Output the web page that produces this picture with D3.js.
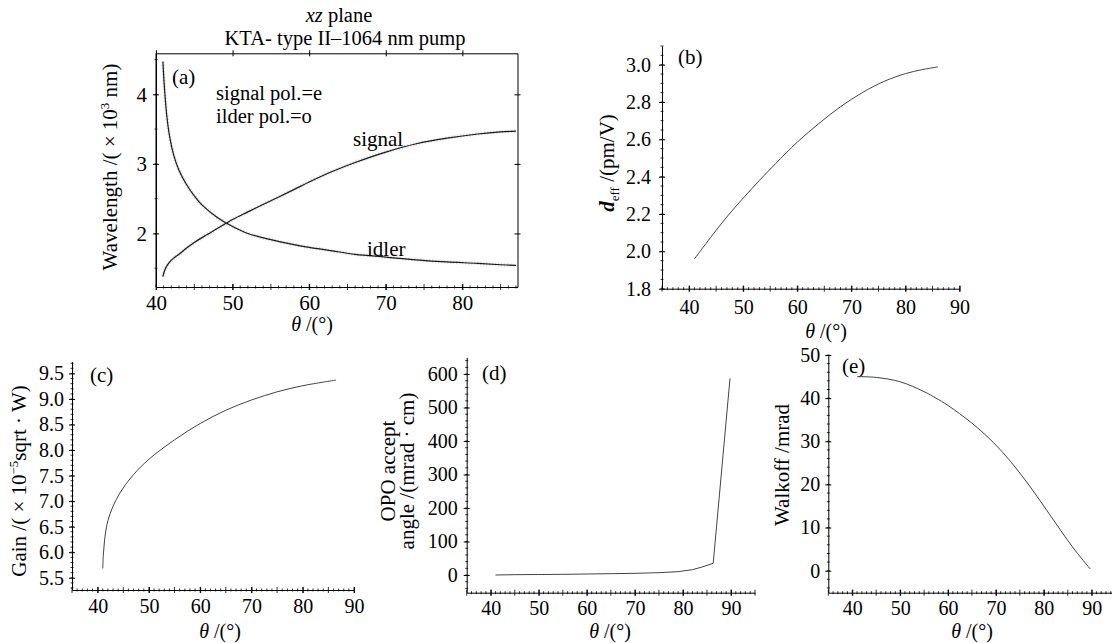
<!DOCTYPE html>
<html lang="en">
<head>
<meta charset="utf-8">
<style>
  body { margin: 0; background: #fff; }
  svg text { font-family: "Liberation Serif", "Times New Roman", serif; fill: #000; }
  .domain { stroke: #000; stroke-width: 1; }
  .tick line { stroke: #000; stroke-width: 1; }
</style>
</head>
<body>
<svg id="chart" width="1112" height="643"></svg>
<script src="https://d3js.org/d3.v7.min.js"></script>
<script>
// (a) signal / idler wavelength, x 10^3 nm
var thetaA = [40.9, 41.1, 41.4, 41.8, 42.3, 43, 44, 45, 46, 48, 50, 52, 55, 58, 60, 63, 66, 70, 74, 78, 82, 85, 87];
var signalA = [1.38, 1.46, 1.53, 1.59, 1.645, 1.70, 1.79, 1.87, 1.94, 2.07, 2.20, 2.31, 2.47, 2.63, 2.74, 2.89, 3.02, 3.17, 3.29, 3.37, 3.43, 3.46, 3.47];
var idlerA = [4.47, 4.10, 3.70, 3.38, 3.13, 2.91, 2.70, 2.54, 2.41, 2.23, 2.10, 2.00, 1.91, 1.84, 1.80, 1.75, 1.70, 1.66, 1.62, 1.59, 1.57, 1.55, 1.54];

// (b) d_eff, pm/V
var thetaB = [41, 44, 47, 50, 53, 56, 60, 64, 68, 72, 76, 80, 83, 86];
var deffB = [1.96, 2.075, 2.185, 2.285, 2.38, 2.47, 2.585, 2.685, 2.775, 2.85, 2.91, 2.952, 2.973, 2.988];

// (c) gain
var thetaC = [41, 41.1, 41.3, 41.6, 42, 43, 44, 45, 47, 50, 55, 60, 65, 70, 75, 80, 84, 86.5];
var gainC = [5.68, 5.93, 6.18, 6.42, 6.62, 6.9, 7.1, 7.26, 7.52, 7.82, 8.2, 8.52, 8.78, 8.98, 9.14, 9.26, 9.33, 9.37];

// (d) OPO acceptance angle
var thetaD = [41, 45, 50, 55, 60, 65, 70, 75, 79, 82, 84, 86.3, 89.8];
var acceptD = [0, 1, 1.5, 2, 3, 4, 5, 7, 10, 16, 24, 35, 587];

// (e) walkoff
var thetaE = [41, 45, 50, 55, 57.5, 60, 65, 69.4, 73, 76.4, 80, 83, 86, 89.7];
var walkE = [45.0, 44.8, 43.8, 41.5, 40, 38.3, 34.2, 29.8, 25.4, 20.6, 15.0, 10.2, 5.5, 0.4];

// tick labels
var xTicksA = [40, 50, 60, 70, 80];
var yTicksA = [2, 3, 4];
var xTicks = [40, 50, 60, 70, 80, 90];
var yTicksB = [1.8, 2.0, 2.2, 2.4, 2.6, 2.8, 3.0];
var yTicksC = [5.5, 6.0, 6.5, 7.0, 7.5, 8.0, 8.5, 9.0, 9.5];
var yTicksD = [0, 100, 200, 300, 400, 500, 600];
var yTicksE = [0, 10, 20, 30, 40, 50];

var svg = d3.select("#chart");

function zip(xs, ys) { return xs.map(function(v, i) { return [v, ys[i]]; }); }

function drawPanel(p) {
  var x = d3.scaleLinear().domain(p.xDomain).range([p.left, p.right]);
  var y = d3.scaleLinear().domain(p.yDomain).range([p.bottom, p.top]);
  var g = svg.append("g");

  // minor ticks
  var xMinor = d3.range(Math.ceil(p.xDomain[0]), p.xDomain[1] + 0.001, 1);
  var yMinor = d3.range(Math.ceil(p.yDomain[0] / p.yMinor) * p.yMinor, p.yDomain[1] + 1e-9, p.yMinor);

  var bx = g.append("g").attr("transform", "translate(0," + p.bottom + ")")
    .call(d3.axisBottom(x).tickValues(p.xTicks).tickSizeOuter(0).tickSizeInner(3).tickPadding(p.xPad).tickFormat(d3.format("d")));
  bx.selectAll(".tick line").attr("y1", -3).attr("y2", 3);
  bx.selectAll(".tick text").attr("font-size", p.fs);
  bx.selectAll(".minor").data(xMinor).enter().append("line")
    .attr("x1", x).attr("x2", x).attr("y1", function(d) { return d % 5 === 0 ? -3 : -1.5; }).attr("y2", function(d) { return d % 5 === 0 ? 3 : 1.5; })
    .attr("stroke", "#000").attr("stroke-width", 0.8);

  var ly = g.append("g").attr("transform", "translate(" + p.left + ",0)")
    .call(d3.axisLeft(y).tickValues(p.yTicks).tickSizeOuter(0).tickSizeInner(3).tickPadding(p.yPad).tickFormat(d3.format(p.yFmt)));
  ly.selectAll(".tick line").attr("x1", -3).attr("x2", 3);
  ly.selectAll(".tick text").attr("font-size", p.fs);
  ly.selectAll(".minor").data(yMinor).enter().append("line")
    .attr("y1", y).attr("y2", y).attr("x1", -1.5).attr("x2", 1.5)
    .attr("stroke", "#000").attr("stroke-width", 0.8);

  if (p.frame) {
    var tx = g.append("g").attr("transform", "translate(0," + p.top + ")")
      .call(d3.axisTop(x).tickValues(p.xTicks).tickSizeOuter(0).tickSizeInner(3).tickFormat(""));
    tx.selectAll(".tick line").attr("y1", -3).attr("y2", 3);
    var ry = g.append("g").attr("transform", "translate(" + p.right + ",0)")
      .call(d3.axisRight(y).tickValues(p.yTicks).tickSizeOuter(0).tickSizeInner(3).tickFormat(""));
    ry.selectAll(".tick line").attr("x1", -3).attr("x2", 3);
    g.append("line").attr("x1", p.left).attr("x2", p.left).attr("y1", p.top).attr("y2", p.bottom).attr("stroke", "#000");
  }

  // panel letter
  g.append("text").attr("x", p.tagX).attr("y", p.tagY).attr("font-size", 21).text(p.tag);

  // x label
  var xl = g.append("text").attr("x", p.xLabX).attr("y", p.xLabY).attr("font-size", p.xLabFs || p.fs).attr("text-anchor", "middle");
  xl.append("tspan").attr("font-style", "italic").text("θ");
  xl.append("tspan").text(" /(°)");

  return { g: g, x: x, y: y };
}

function curve(pan, xs, ys, opts) {
  var line = d3.line().x(function(d) { return pan.x(d[0]); }).y(function(d) { return pan.y(d[1]); })
    .curve(opts.linear ? d3.curveLinear : d3.curveCatmullRom.alpha(0.5));
  var data = zip(xs, ys);
  if (opts.fuzz) {
    pan.g.append("path").attr("d", line(data)).attr("fill", "none")
      .attr("stroke", "#999").attr("stroke-width", 3.5).attr("stroke-opacity", 0.35)
      .attr("stroke-dasharray", "1.5 1.5");
  }
  pan.g.append("path").attr("d", line(data)).attr("fill", "none")
    .attr("stroke", opts.color).attr("stroke-width", opts.width);
}

// ---------- (a)
var pa = drawPanel({
  left: 156, right: 517.5, top: 53.3, bottom: 287, xDomain: [40, 87.2], yDomain: [1.23, 4.59],
  xTicks: xTicksA, yTicks: yTicksA, yMinor: 0.5, yFmt: "d", xPad: 5, yPad: 6, fs: 21, frame: true,
  tag: "(a)", tagX: 172, tagY: 84, xLabX: 312, xLabY: 331, xLabFs: 20
});
curve(pa, thetaA, idlerA, { color: "#1a1a1a", width: 1.2, fuzz: true });
curve(pa, thetaA, signalA, { color: "#1a1a1a", width: 1.2, fuzz: true });
pa.g.append("text").attr("x", 216).attr("y", 100).attr("font-size", 20.5).text("signal pol.=e");
pa.g.append("text").attr("x", 216).attr("y", 123).attr("font-size", 20.5).text("ilder pol.=o");
pa.g.append("text").attr("x", 353).attr("y", 146).attr("font-size", 21).text("signal");
pa.g.append("text").attr("x", 367).attr("y", 256).attr("font-size", 21).text("idler");

var t1 = svg.append("text").attr("x", 339).attr("y", 22).attr("font-size", 20.5).attr("text-anchor", "middle");
t1.append("tspan").attr("font-style", "italic").text("xz");
t1.append("tspan").text(" plane");
svg.append("text").attr("x", 345).attr("y", 45).attr("font-size", 20.5).attr("text-anchor", "middle")
  .text("KTA- type II–1064 nm pump");

var yla = svg.append("text").attr("transform", "translate(117,167) rotate(-90)").attr("font-size", 21).attr("text-anchor", "middle");
yla.append("tspan").text("Wavelength /( × 10");
yla.append("tspan").attr("font-size", 13).attr("dy", -8).text("3");
yla.append("tspan").attr("dy", 8).text(" nm)");

// ---------- (b)
var pb = drawPanel({
  left: 662, right: 959.6, top: 46, bottom: 288.7, xDomain: [35, 90], yDomain: [1.8, 3.1],
  xTicks: xTicks, yTicks: yTicksB, yMinor: 0.05, yFmt: ".1f", xPad: 8, yPad: 8, fs: 20,
  tag: "(b)", tagX: 678, tagY: 64, xLabX: 826, xLabY: 338
});
curve(pb, thetaB, deffB, { color: "#444", width: 1 });
var ylb = svg.append("text").attr("transform", "translate(614,163) rotate(-90)").attr("font-size", 21).attr("text-anchor", "middle");
ylb.append("tspan").attr("font-style", "italic").attr("font-weight", "bold").text("d");
ylb.append("tspan").attr("font-size", 13).attr("dy", 5).text("eff");
ylb.append("tspan").attr("dy", -5).text(" /(pm/V)");

// ---------- (c)
var pc = drawPanel({
  left: 72, right: 354, top: 361.7, bottom: 590, xDomain: [35, 90], yDomain: [5.26, 9.73],
  xTicks: xTicks, yTicks: yTicksC, yMinor: 0.1, yFmt: ".1f", xPad: 6, yPad: 5, fs: 20,
  tag: "(c)", tagX: 90, tagY: 382, xLabX: 220, xLabY: 638, xLabFs: 20
});
curve(pc, thetaC, gainC, { color: "#444", width: 1 });
var ylc = svg.append("text").attr("transform", "translate(26,481) rotate(-90)").attr("font-size", 21).attr("text-anchor", "middle");
ylc.append("tspan").text("Gain /( × 10");
ylc.append("tspan").attr("font-size", 13).attr("dy", -8).text("−5");
ylc.append("tspan").attr("dy", 8).text("sqrt · W)");

// ---------- (d)
var pd = drawPanel({
  left: 466.7, right: 755, top: 357.3, bottom: 592.7, xDomain: [35, 95], yDomain: [-52.8, 650],
  xTicks: xTicks, yTicks: yTicksD, yMinor: 20, yFmt: "d", xPad: 5, yPad: 6, fs: 20,
  tag: "(d)", tagX: 482, tagY: 380, xLabX: 610, xLabY: 638, xLabFs: 20
});
curve(pd, thetaD, acceptD, { color: "#444", width: 1, linear: true });
var yld = svg.append("text").attr("transform", "translate(395,471) rotate(-90)").attr("font-size", 21).attr("text-anchor", "middle");
yld.append("tspan").attr("x", 0).attr("dy", 0).text("OPO accept");
yld.append("tspan").attr("x", 0).attr("dy", 19).text("angle /(mrad · cm)");

// ---------- (e)
var pe = drawPanel({
  left: 828.3, right: 1115.6, top: 355, bottom: 592.7, xDomain: [35, 95], yDomain: [-5.1, 50],
  xTicks: xTicks, yTicks: yTicksE, yMinor: 2, yFmt: "d", xPad: 5, yPad: 5, fs: 20,
  tag: "(e)", tagX: 842, tagY: 373, xLabX: 972, xLabY: 638, xLabFs: 20
});
curve(pe, thetaE, walkE, { color: "#444", width: 1 });
svg.append("text").attr("transform", "translate(789,465) rotate(-90)").attr("font-size", 21).attr("text-anchor", "middle")
  .text("Walkoff /mrad");
</script>
</body>
</html>
